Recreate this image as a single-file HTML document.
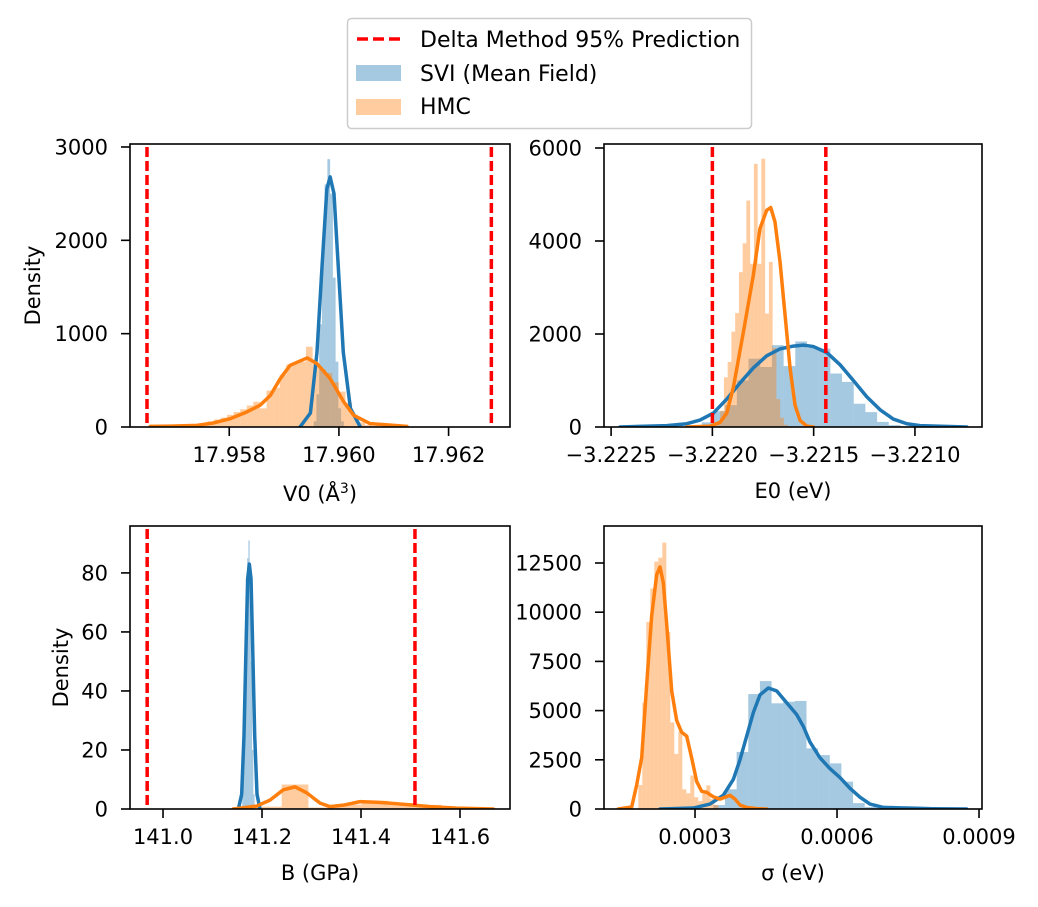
<!DOCTYPE html>
<html><head><meta charset="utf-8">
<style>
html,body{margin:0;padding:0;background:#fff;}
svg{display:block;font-family:"DejaVu Sans","Liberation Sans",sans-serif;}
</style></head>
<body>
<svg id="fig" width="1038" height="907" viewBox="0 0 1038 907" xmlns="http://www.w3.org/2000/svg">
  <g>
    <rect x="347.5" y="18.5" width="404" height="110" rx="4" fill="#fff" stroke="#ccc" stroke-width="1.5"/>
    <line x1="357" y1="39" x2="401" y2="39" stroke="#ff0000" stroke-width="3.5" stroke-dasharray="11,5"/>
    <text x="420" y="47" font-size="22" fill="#000">Delta Method 95% Prediction</text>
    <rect x="356" y="65" width="45" height="16" fill="#1f77b4" fill-opacity="0.4"/>
    <text x="420" y="81" font-size="22" fill="#000">SVI (Mean Field)</text>
    <rect x="356" y="99" width="45" height="16" fill="#ff7f0e" fill-opacity="0.4"/>
    <text x="420" y="114" font-size="22" fill="#000">HMC</text>
  </g>
</svg>
<script>
// ---------- Panel A: V0 ----------
const aXTicks = [17.958, 17.960, 17.962];
const aXTickLabels = ["17.958", "17.960", "17.962"];
const aYTicks = [0, 1000, 2000, 3000];
const aDelta = [17.9565, 17.96278];
const aBlueKdeX = [17.95929, 17.95948, 17.95960, 17.95969, 17.95978, 17.95984, 17.95991, 17.95999, 17.96008, 17.96021, 17.96039];
const aBlueKdeY = [0, 150, 800, 1700, 2550, 2680, 2500, 1700, 800, 200, 0];
const aBlueHistStart = 17.95954;
const aBlueHistWidth = 0.00005;
const aBlueHist = [60, 350, 1100, 2000, 2600, 2870, 2500, 1600, 700, 200, 60, 10];
const aOrangeKdeX = [17.95656, 17.95692, 17.95741, 17.95771, 17.95802, 17.95832, 17.95856, 17.95875, 17.95893, 17.95911, 17.95942, 17.9596, 17.95984, 17.96009, 17.96027, 17.96057, 17.96124];
const aOrangeKdeY = [7, 10, 18, 43, 89, 161, 232, 339, 518, 661, 740, 679, 518, 268, 125, 36, 7];
const aOrangeHistStart = 17.9570;
const aOrangeHistWidth = 0.00012;
const aOrangeHist = [5, 10, 15, 25, 40, 60, 80, 100, 130, 160, 190, 230, 270, 200, 390, 420, 560, 670, 680, 700, 860, 680, 620, 580, 480, 380, 260, 120, 50, 20, 10, 5, 3, 2, 1];

// ---------- Panel B: E0 ----------
const bXTicks = [-3.2225, -3.2220, -3.2215, -3.2210];
const bXTickLabels = ["\u22123.2225", "\u22123.2220", "\u22123.2215", "\u22123.2210"];
const bYTicks = [0, 2000, 4000, 6000];
const bDelta = [-3.2220, -3.22144];
const bBlueKdeX = [-3.222456, -3.222225, -3.222126, -3.222061, -3.221995, -3.221929, -3.221863, -3.221798, -3.221732, -3.221666, -3.2216, -3.221551, -3.221501, -3.221435, -3.22137, -3.221304, -3.221238, -3.221172, -3.221107, -3.22104, -3.220975, -3.220744];
const bBlueKdeY = [0, 30, 70, 150, 300, 600, 950, 1270, 1530, 1680, 1740, 1760, 1730, 1600, 1340, 1000, 650, 370, 170, 70, 30, 0];
const bBlueHistStart = -3.22211;
const bBlueHistWidth = 0.0000577;
const bBlueHist = [20, 100, 340, 470, 1000, 1470, 1290, 1760, 1310, 1840, 1700, 1685, 1150, 970, 500, 320, 110, 40, 15];
const bOrangeKdeX = [-3.222126, -3.222011, -3.221962, -3.221929, -3.221896, -3.221847, -3.221798, -3.221765, -3.221732, -3.221712, -3.221691, -3.221666, -3.221641, -3.221616, -3.221592, -3.221567, -3.221534, -3.221501];
const bOrangeKdeY = [0, 20, 100, 300, 860, 2040, 3260, 4270, 4660, 4720, 4410, 3550, 2400, 1250, 470, 140, 20, 0];
const bOrangeHistStart = -3.22198;
const bOrangeHistWidth = 0.0000185;
const bOrangeHist = [100, 350, 1070, 1400, 2050, 2450, 3330, 3950, 4870, 3510, 5660, 3510, 5770, 2440, 3550, 1700, 600, 200, 50, 20];

// ---------- Panel C: B ----------
const cXTicks = [141.0, 141.2, 141.4, 141.6];
const cXTickLabels = ["141.0", "141.2", "141.4", "141.6"];
const cYTicks = [0, 20, 40, 60, 80];
const cDelta = [140.968, 141.509];
const cBlueKdeX = [141.1522, 141.1589, 141.1636, 141.1677, 141.1710, 141.1744, 141.1778, 141.1811, 141.1852, 141.1899, 141.1959];
const cBlueKdeY = [0, 5, 25, 55, 78, 83, 78, 55, 25, 5, 0];
const cBlueHistStart = 141.160;
const cBlueHistWidth = 0.0025;
const cBlueHist = [5, 25, 55, 78, 85, 91, 78, 50, 20, 5];
const cOrangeKdeX = [141.142, 141.1892, 141.2161, 141.243, 141.2667, 141.2902, 141.3172, 141.3373, 141.3643, 141.398, 141.4316, 141.472, 141.5057, 141.5394, 141.5933, 141.6673];
const cOrangeKdeY = [0, 1, 3, 6.5, 7.5, 5.5, 2, 0.8, 1.3, 2.5, 2.3, 1.8, 1.3, 0.8, 0.3, 0];
const cOrangeHistStart = 141.132;
const cOrangeHistWidth = 0.0539;
const cOrangeHist = [0.2, 0.8, 8.3, 0.5, 1.5, 2.8, 2.0, 1.4, 0.7, 0.3];

// ---------- Panel D: sigma ----------
const dXTicks = [0.0003, 0.0006, 0.0009];
const dXTickLabels = ["0.0003", "0.0006", "0.0009"];
const dYTicks = [0, 2500, 5000, 7500, 10000, 12500];
const dBlueKdeX = [0.000226, 0.0002964, 0.0003316, 0.0003598, 0.0003809, 0.000395, 0.0004091, 0.0004232, 0.0004373, 0.0004549, 0.0004725, 0.0004936, 0.0005147, 0.0005288, 0.0005429, 0.000564, 0.0005852, 0.0006063, 0.0006274, 0.0006485, 0.0006697, 0.0006978, 0.0007331, 0.0007683, 0.0008035, 0.0008739];
const dBlueKdeY = [0, 50, 250, 700, 1500, 2500, 3700, 4900, 5800, 6150, 6000, 5400, 4800, 4200, 3400, 2600, 2050, 1600, 1050, 600, 250, 80, 60, 40, 15, 0];
const dBlueHistStart = 0.0003387;
const dBlueHistWidth = 0.0000246;
const dBlueHist = [200, 1000, 2900, 5840, 6500, 5370, 5450, 5490, 3080, 2740, 2320, 1390, 300, 100, 60, 50, 30, 20];
const dOrangeKdeX = [0.000138, 0.0001662, 0.0001767, 0.0001873, 0.0001978, 0.0002084, 0.000219, 0.000226, 0.000233, 0.0002401, 0.0002507, 0.0002612, 0.0002718, 0.0002824, 0.0002929, 0.0003035, 0.000314, 0.0003246, 0.0003387, 0.0003528, 0.0003633, 0.0003739, 0.0003845, 0.000395, 0.0004091, 0.0004302, 0.0004514];
const dOrangeKdeY = [0, 100, 1220, 2600, 6300, 9800, 11900, 12300, 11500, 9400, 6000, 4500, 3900, 3700, 2600, 1400, 900, 850, 620, 500, 600, 700, 500, 200, 80, 20, 0];
const dOrangeHistStart = 0.0001802;
const dOrangeHistWidth = 0.00000845;
const dOrangeHist = [1220, 5400, 9500, 11200, 12570, 12770, 13535, 9000, 4400, 2800, 3950, 1000, 800, 1700, 600, 400, 900, 1200, 500, 200];

const NS = "http://www.w3.org/2000/svg";
const fig = document.getElementById("fig");
function mk(tag, attrs, parent) {
  const e = document.createElementNS(NS, tag);
  for (const k in attrs) e.setAttribute(k, attrs[k]);
  parent.appendChild(e);
  return e;
}

function panel(cfg) {
  const g = mk("g", {}, fig);
  
  
  const L = cfg.box[0], T = cfg.box[1], R = cfg.box[2], B = cfg.box[3];
  const sx = v => L + (v - cfg.xmin) / (cfg.xmax - cfg.xmin) * (R - L);
  const sy = v => B - (v - cfg.ymin) / (cfg.ymax - cfg.ymin) * (B - T);
  const clipId = cfg.name + "-clip";
  const defs = mk("defs", {}, g);
  const cp = mk("clipPath", {id: clipId}, defs);
  mk("rect", {x: L, y: T, width: R - L, height: B - T}, cp);
  const plot = mk("g", {"clip-path": "url(#" + clipId + ")"}, g);
  
  

  function hist(start, width, heights, color, label) {
    heights.forEach((h, i) => {
      const x0 = sx(start + i * width), x1 = sx(start + (i + 1) * width);
      const r = mk("rect", {x: x0, y: sy(h), width: Math.max(0.5, x1 - x0), height: Math.max(0, sy(0) - sy(h)), fill: color, "fill-opacity": 0.4}, plot);
      
      
    });
  }
  function kde(xs, ys, color, label) {
    const d = xs.map((x, i) => (i ? "L" : "M") + sx(x).toFixed(2) + "," + sy(ys[i]).toFixed(2)).join(" ");
    const p = mk("path", {d: d, fill: "none", stroke: color, "stroke-width": 3.5, "stroke-linejoin": "round", "stroke-linecap": "round"}, plot);
    
    
  }
  hist(cfg.bh[0], cfg.bh[1], cfg.bh[2], "#1f77b4", "svi-histogram");
  hist(cfg.oh[0], cfg.oh[1], cfg.oh[2], "#ff7f0e", "hmc-histogram");
  kde(cfg.bk[0], cfg.bk[1], "#1f77b4", "svi");
  kde(cfg.ok[0], cfg.ok[1], "#ff7f0e", "hmc");
  (cfg.delta || []).forEach(v => {
    const l = mk("line", {x1: sx(v), x2: sx(v), y1: T + 3, y2: B, stroke: "#ff0000", "stroke-width": 3.5, "stroke-dasharray": "10,4"}, plot);
    
    
  });
  const frame = mk("rect", {x: L, y: T, width: R - L, height: B - T, fill: "none", stroke: "#000", "stroke-width": 1.6}, g);
  
  

  cfg.xt.forEach((v, i) => {
    const x = sx(v);
    const t = mk("line", {x1: x, x2: x, y1: B, y2: B + 9, stroke: "#000", "stroke-width": 1.6}, g);
    
    
    const tx = mk("text", {x: x, y: B + 35, "font-size": 21, "text-anchor": "middle", fill: "#000"}, g);
    tx.textContent = cfg.xtl[i];
    
    
  });
  cfg.yt.forEach(v => {
    const y = sy(v);
    const t = mk("line", {x1: L - 9, x2: L, y1: y, y2: y, stroke: "#000", "stroke-width": 1.6}, g);
    
    
    const tx = mk("text", {x: L - 22, y: y + 7.5, "font-size": 21, "text-anchor": "end", fill: "#000"}, g);
    tx.textContent = String(v);
    
    
  });
  const xl = mk("text", {x: (L + R) / 2, y: cfg.xly, "font-size": 21, "text-anchor": "middle", fill: "#000"}, g);
  xl.innerHTML = cfg.xlabel;
  
  
  if (cfg.ylx) {
    const cy = (T + B) / 2;
    const yl = mk("text", {x: cfg.ylx, y: cy, "font-size": 21, "text-anchor": "middle", fill: "#000", transform: "rotate(-90 " + cfg.ylx + " " + cy + ")"}, g);
    yl.textContent = "Density";
    
    
  }
}

panel({name: "v0-panel", box: [130, 144, 510, 427], xmin: 17.95619, xmax: 17.96312, ymin: 0, ymax: 3032,
  xt: aXTicks, xtl: aXTickLabels, yt: aYTicks, delta: aDelta,
  bk: [aBlueKdeX, aBlueKdeY], ok: [aOrangeKdeX, aOrangeKdeY],
  bh: [aBlueHistStart, aBlueHistWidth, aBlueHist], oh: [aOrangeHistStart, aOrangeHistWidth, aOrangeHist],
  xlabel: 'V0 (Å<tspan baseline-shift="super" font-size="14">3</tspan>)', xly: 501, ylx: 40});
panel({name: "e0-panel", box: [604, 144, 982, 427], xmin: -3.222535, xmax: -3.220669, ymin: 0, ymax: 6086,
  xt: bXTicks, xtl: bXTickLabels, yt: bYTicks, delta: bDelta,
  bk: [bBlueKdeX, bBlueKdeY], ok: [bOrangeKdeX, bOrangeKdeY],
  bh: [bBlueHistStart, bBlueHistWidth, bBlueHist], oh: [bOrangeHistStart, bOrangeHistWidth, bOrangeHist],
  xlabel: 'E0 (eV)', xly: 498});
panel({name: "b-panel", box: [130, 526, 510, 809], xmin: 140.9333, xmax: 141.701, ymin: 0, ymax: 95.9,
  xt: cXTicks, xtl: cXTickLabels, yt: cYTicks, delta: cDelta,
  bk: [cBlueKdeX, cBlueKdeY], ok: [cOrangeKdeX, cOrangeKdeY],
  bh: [cBlueHistStart, cBlueHistWidth, cBlueHist], oh: [cOrangeHistStart, cOrangeHistWidth, cOrangeHist],
  xlabel: 'B (GPa)', xly: 880, ylx: 68});
panel({name: "sigma-panel", box: [604, 526, 982, 809], xmin: 0.0001077, xmax: 0.0009063, ymin: 0, ymax: 14380,
  xt: dXTicks, xtl: dXTickLabels, yt: dYTicks, delta: [],
  bk: [dBlueKdeX, dBlueKdeY], ok: [dOrangeKdeX, dOrangeKdeY],
  bh: [dBlueHistStart, dBlueHistWidth, dBlueHist], oh: [dOrangeHistStart, dOrangeHistWidth, dOrangeHist],
  xlabel: 'σ (eV)', xly: 880});
</script>
</body></html>
